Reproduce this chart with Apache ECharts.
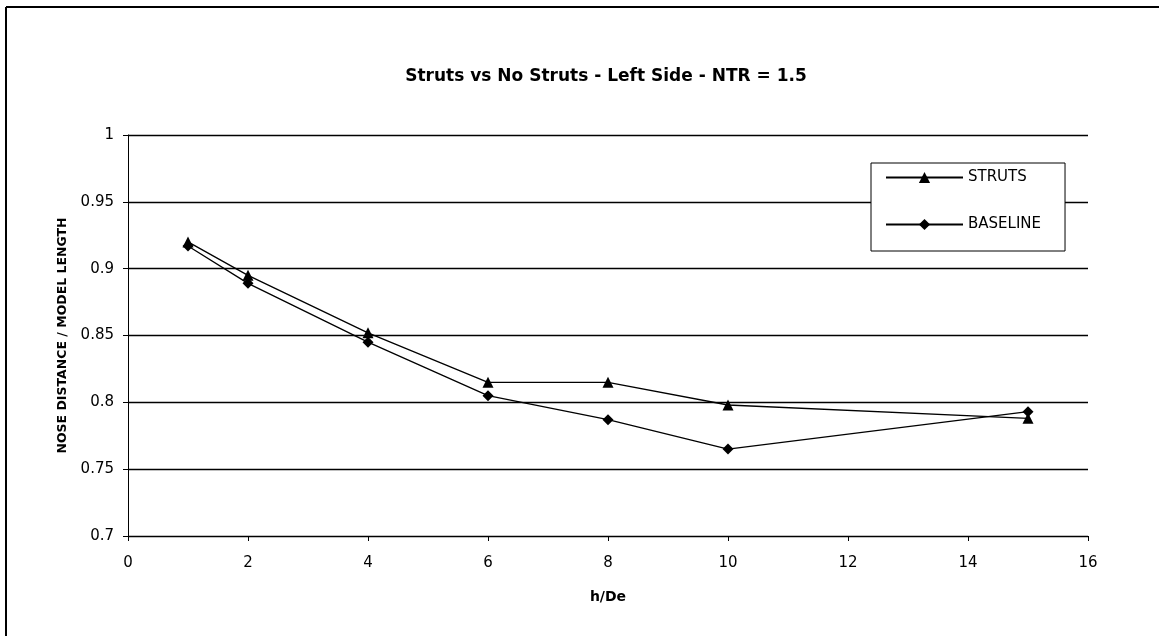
<!DOCTYPE html>
<html>
<head>
<meta charset="utf-8">
<script src="https://cdn.jsdelivr.net/npm/echarts@6/dist/echarts.min.js"></script>
<style>
html,body{margin:0;padding:0;background:#fff;}
#c{width:1159px;height:636px;}
</style>
</head>
<body>
<div id="c"></div>
<script>
var xValues = [1, 2, 4, 6, 8, 10, 15];
var strutsValues = [0.920, 0.895, 0.852, 0.815, 0.815, 0.798, 0.788];
var baselineValues = [0.917, 0.889, 0.845, 0.805, 0.787, 0.765, 0.793];
var titleText = 'Struts vs No Struts - Left Side - NTR = 1.5';
var xName = 'h/De';
var yName = 'NOSE DISTANCE / MODEL LENGTH';

function pairs(xs, ys) { return xs.map(function (x, i) { return [x, ys[i]]; }); }

var FONT = '"DejaVu Sans", sans-serif';
var chart = echarts.init(document.getElementById('c'));
chart.setOption({
  backgroundColor: '#fff',
  animation: false,
  title: {
    text: titleText, left: 601, top: 63, textAlign: 'center',
    textStyle: { fontFamily: FONT, fontSize: 17, fontWeight: 'bold', color: '#000' }
  },
  legend: {
    orient: 'vertical', left: 871, top: 163,
    padding: [7, 24, 19, 14],
    itemWidth: 77, itemHeight: 14, itemGap: 32,
    backgroundColor: '#fff', borderColor: '#000', borderWidth: 1,
    textStyle: { fontFamily: FONT, fontSize: 15, color: '#000' },
    data: ['STRUTS', 'BASELINE']
  },
  grid: { left: 128, right: 71, top: 135, bottom: 100, containLabel: false },
  xAxis: {
    type: 'value', min: 0, max: 16, interval: 2,
    name: xName, nameLocation: 'middle', nameGap: 54,
    nameTextStyle: { fontFamily: FONT, fontSize: 14, fontWeight: 'bold', color: '#000' },
    axisLine: { show: true, lineStyle: { color: '#000', width: 1 } },
    axisTick: { show: true, length: 5, lineStyle: { color: '#000' } },
    axisLabel: { fontFamily: FONT, fontSize: 15, color: '#000', margin: 20 },
    splitLine: { show: false }
  },
  yAxis: {
    type: 'value', min: 0.7, max: 1, interval: 0.05,
    name: yName, nameLocation: 'middle', nameGap: 58, nameRotate: 90,
    nameTextStyle: { fontFamily: FONT, fontSize: 12.5, fontWeight: 'bold', color: '#000' },
    axisLine: { show: true, lineStyle: { color: '#000', width: 1 } },
    axisTick: { show: true, length: 5, lineStyle: { color: '#000' } },
    axisLabel: {
      fontFamily: FONT, fontSize: 15, color: '#000', margin: 14,
      formatter: function (v) { return String(parseFloat(v.toFixed(2))); }
    },
    splitLine: { show: true, lineStyle: { color: '#000', width: 1.3 } }
  },
  series: [
    {
      name: 'STRUTS', type: 'line', data: pairs(xValues, strutsValues),
      symbol: 'triangle', symbolSize: 11, showAllSymbol: true,
      lineStyle: { color: '#000', width: 1.3 },
      itemStyle: { color: '#000' }
    },
    {
      name: 'BASELINE', type: 'line', data: pairs(xValues, baselineValues),
      symbol: 'diamond', symbolSize: 11, showAllSymbol: true,
      lineStyle: { color: '#000', width: 1.3 },
      itemStyle: { color: '#000' }
    }
  ],
  graphic: [
    { type: 'line', shape: { x1: 6, y1: 7, x2: 1159, y2: 7 }, style: { stroke: '#000', lineWidth: 2 } },
    { type: 'line', shape: { x1: 6, y1: 7, x2: 6, y2: 636 }, style: { stroke: '#000', lineWidth: 2 } }
  ]
});
</script>
</body>
</html>
